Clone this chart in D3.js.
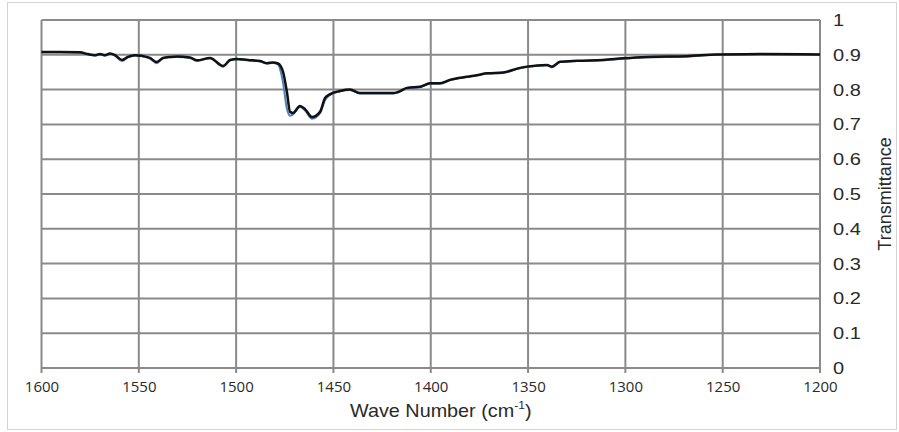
<!DOCTYPE html>
<html>
<head>
<meta charset="utf-8">
<script src="https://cdn.jsdelivr.net/npm/d3@7"></script>
<style>
  html, body { margin: 0; padding: 0; background: #fff; }
  svg { display: block; }
</style>
</head>
<body>
<svg id="chart" width="899" height="432"></svg>
<script>
// ---- data ----
const wavenumbers = [1600, 1590.5, 1580.2, 1576.1, 1572.5, 1569.9, 1567.4, 1564.8, 1562.2, 1558.6, 1555.6, 1552.0, 1548.4, 1544.3, 1540.7, 1537.6, 1534.0, 1530.4, 1523.7, 1520.1, 1513.4, 1506.7, 1503.1, 1499.6, 1493.9, 1487.7, 1484.1, 1481.1, 1478.5, 1475.9, 1473.9, 1472.3, 1470.8, 1467.2, 1464.6, 1461.0, 1456.9, 1454.3, 1451.7, 1446.6, 1441.5, 1436.3, 1429.6, 1419.4, 1416.8, 1412.2, 1405.5, 1400.4, 1395.2, 1390.1, 1381.4, 1375.7, 1371.1, 1362.9, 1355.2, 1350.6, 1340.3, 1337.7, 1333.6, 1324.9, 1311.5, 1301.3, 1288.9, 1268.4, 1253.0, 1230.8, 1200];
const transmittanceBlack = [0.908, 0.908, 0.907, 0.902, 0.899, 0.902, 0.899, 0.904, 0.899, 0.885, 0.894, 0.899, 0.897, 0.891, 0.879, 0.891, 0.894, 0.895, 0.892, 0.884, 0.891, 0.868, 0.885, 0.888, 0.885, 0.882, 0.876, 0.878, 0.875, 0.851, 0.793, 0.736, 0.733, 0.753, 0.744, 0.721, 0.736, 0.776, 0.787, 0.796, 0.800, 0.790, 0.790, 0.790, 0.793, 0.805, 0.808, 0.818, 0.818, 0.828, 0.837, 0.842, 0.847, 0.849, 0.861, 0.866, 0.871, 0.866, 0.880, 0.883, 0.885, 0.890, 0.894, 0.896, 0.901, 0.902, 0.901];
const transmittanceBlue = [0.907, 0.907, 0.906, 0.901, 0.898, 0.901, 0.898, 0.903, 0.897, 0.882, 0.893, 0.898, 0.896, 0.889, 0.876, 0.890, 0.893, 0.894, 0.891, 0.882, 0.890, 0.866, 0.884, 0.887, 0.884, 0.881, 0.875, 0.877, 0.872, 0.820, 0.745, 0.725, 0.729, 0.750, 0.740, 0.716, 0.732, 0.770, 0.785, 0.795, 0.799, 0.789, 0.789, 0.789, 0.792, 0.804, 0.807, 0.817, 0.817, 0.827, 0.836, 0.841, 0.846, 0.848, 0.860, 0.865, 0.870, 0.864, 0.879, 0.882, 0.884, 0.889, 0.893, 0.895, 0.900, 0.901, 0.900];
const xTicks = [1600, 1550, 1500, 1450, 1400, 1350, 1300, 1250, 1200];
const yTicks = [0, 0.1, 0.2, 0.3, 0.4, 0.5, 0.6, 0.7, 0.8, 0.9, 1];
const xTitle = "Wave Number (cm";
const xTitleSup = "-1";
const yTitle = "Transmittance";

// ---- chart ----
const svg = d3.select("#chart");
const gridColor = "#8a8a8a";
const textColor = "#2a2a2a";

svg.append("rect")
  .attr("x", 7.5).attr("y", 2.5).attr("width", 889).attr("height", 427)
  .attr("fill", "#fff").attr("stroke", "#d4d4d4").attr("stroke-width", 1);

const x = d3.scaleLinear().domain([1600, 1200]).range([41.5, 820]);
const y = d3.scaleLinear().domain([0, 1]).range([368, 20]);

// grid
svg.append("g").selectAll("line").data(xTicks).join("line")
  .attr("x1", d => x(d)).attr("x2", d => x(d))
  .attr("y1", y(1)).attr("y2", y(0) + 5)
  .attr("stroke", gridColor).attr("stroke-width", 2);
svg.append("g").selectAll("line").data(yTicks).join("line")
  .attr("x1", x(1600)).attr("x2", x(1200))
  .attr("y1", d => y(d)).attr("y2", d => y(d))
  .attr("stroke", gridColor).attr("stroke-width", 2);

// x tick labels
const xAxis = d3.axisBottom(x).tickValues(xTicks).tickSize(0).tickPadding(13).tickFormat(d3.format("d"));
const gx = svg.append("g").attr("transform", `translate(0,${y(0)})`).call(xAxis);
gx.select(".domain").remove();
gx.selectAll("text").attr("font-family", "'Open Sans', sans-serif").attr("font-size", 15).attr("fill", textColor);

// y tick labels (right side)
const yAxis = d3.axisRight(y).tickValues(yTicks).tickSize(0).tickPadding(14).tickFormat(d => d3.format("")(+d.toFixed(1)));
const gy = svg.append("g").attr("transform", `translate(${x(1200)},0)`).call(yAxis);
gy.select(".domain").remove();
gy.selectAll("text")
  .attr("font-family", "'Liberation Sans', Arial, sans-serif").attr("font-size", 17).attr("fill", textColor)
  .attr("transform", "scale(1.18,1)")
  .attr("x", 13 / 1.18);

// lines
const pts = (vals) => wavenumbers.map((w, i) => [w, vals[i]]);
const line = d3.line().x(d => x(d[0])).y(d => y(d[1])).curve(d3.curveMonotoneX);
svg.append("path").datum(pts(transmittanceBlue))
  .attr("d", line).attr("fill", "none").attr("stroke", "#4f81bd").attr("stroke-width", 2);
svg.append("path").datum(pts(transmittanceBlack))
  .attr("d", line).attr("fill", "none").attr("stroke", "#111").attr("stroke-width", 2.5);

// titles
const xt = svg.append("text")
  .attr("transform", `translate(${(x(1600) + x(1200)) / 2 + 10},417) scale(1.1,1)`)
  .attr("text-anchor", "middle")
  .attr("font-family", "'Liberation Sans', Arial, sans-serif").attr("font-size", 18).attr("fill", textColor);
xt.append("tspan").text(xTitle);
xt.append("tspan").attr("font-size", 11).attr("dy", -8).text(xTitleSup);
xt.append("tspan").attr("dy", 8).text(")");

svg.append("text")
  .attr("transform", `translate(891,${y(0.5)}) rotate(-90)`)
  .attr("text-anchor", "middle")
  .attr("font-family", "'Liberation Sans', Arial, sans-serif").attr("font-size", 18).attr("fill", textColor)
  .text(yTitle);
</script>
</body>
</html>
